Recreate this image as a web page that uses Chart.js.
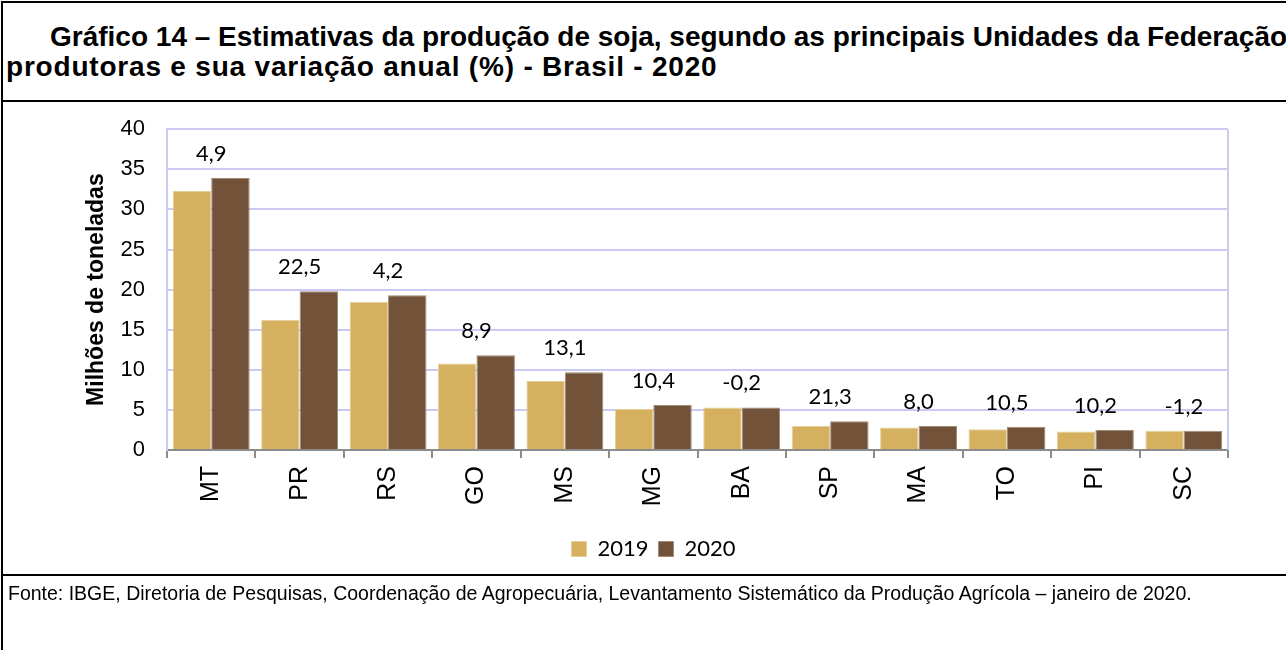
<!DOCTYPE html>
<html>
<head>
<meta charset="utf-8">
<script src="https://cdn.jsdelivr.net/npm/chart.js@4.4.0/dist/chart.umd.min.js"></script>
<style>
  body { margin: 0; background: #fff; width: 1286px; height: 650px; overflow: hidden; position: relative; font-family: "Liberation Sans", Arial, sans-serif; }
  #frame { position: absolute; left: 1px; top: 1px; width: 1300px; height: 660px; border-left: 2px solid #000; border-top: 2px solid #000; }
  #title { position: absolute; left: 6px; top: 22px; width: 1290px; font-weight: bold; font-size: 28px; line-height: 30px; color: #000; white-space: nowrap; }
  #title .l1 { padding-left: 44px; }
  #title .l2 { letter-spacing: 0.8px; }
  #sep1 { position: absolute; left: 1px; top: 100px; width: 1300px; height: 2px; background: #000; }
  #wrap { position: absolute; left: 4px; top: 94px; width: 1282px; height: 481px; }
  #sep2 { position: absolute; left: 1px; top: 574px; width: 1300px; height: 2px; background: #000; }
  #foot { position: absolute; left: 8px; top: 582px; font-size: 19.5px; line-height: 22px; color: #000; white-space: nowrap; }
</style>
</head>
<body>
<div id="frame"></div>
<div id="title"><div class="l1">Gráfico 14 – Estimativas da produção de soja, segundo as principais Unidades da Federação</div><div class="l2">produtoras e sua variação anual (%) - Brasil - 2020</div></div>
<div id="wrap"><canvas id="myChart" width="1282" height="481"></canvas></div>
<div id="sep1"></div>
<div id="sep2"></div>
<div id="foot">Fonte: IBGE, Diretoria de Pesquisas, Coordenação de Agropecuária, Levantamento Sistemático da Produção Agrícola – janeiro de 2020.</div>
<script>
const CHART = document.getElementById('myChart');

// Produção de soja (milhões de toneladas) e variação anual (%)
const states = ['MT', 'PR', 'RS', 'GO', 'MS', 'MG', 'BA', 'SP', 'MA', 'TO', 'PI', 'SC'];
const prod2019 = [32.3, 16.2, 18.5, 10.8, 8.6, 5.1, 5.3, 3.0, 2.8, 2.6, 2.3, 2.4];
const prod2020 = [33.9, 19.8, 19.3, 11.8, 9.7, 5.6, 5.3, 3.6, 3.0, 2.9, 2.5, 2.4];
const variation = [4.9, 22.5, 4.2, 8.9, 13.1, 10.4, -0.2, 21.3, 8.0, 10.5, 10.2, -1.2];
const yTicks = [0, 5, 10, 15, 20, 25, 30, 35, 40];

const GRID = '#cacaf4';

const variationLabels = {
    id: 'variationLabels',
    afterDatasetsDraw(chart) {
        const { ctx, scales: { x, y }, chartArea } = chart;
        ctx.save();
        // borda direita da área do gráfico
        ctx.strokeStyle = GRID;
        ctx.lineWidth = 2;
        ctx.beginPath();
        ctx.moveTo(chartArea.right, chartArea.top);
        ctx.lineTo(chartArea.right, chartArea.bottom);
        ctx.stroke();

        ctx.font = '22px Lato, "Open Sans", sans-serif';
        ctx.fillStyle = '#000';
        ctx.textAlign = 'center';
        ctx.textBaseline = 'alphabetic';
        variation.forEach((v, i) => {
            const top = y.getPixelForValue(Math.max(prod2019[i], prod2020[i]));
            const txt = v.toFixed(1).replace('.', ',');
            ctx.fillText(txt, x.getPixelForValue(i), top - 17);
        });
        ctx.restore();
    }
};

let barChart = new Chart(CHART, {
    type: 'bar',
    data: {
        labels: states,
        datasets: [
            {
                label: '2019',
                backgroundColor: '#d4b05f',
                borderColor: '#e6cf9c',
                borderWidth: 1,
                data: prod2019
            },
            {
                label: '2020',
                backgroundColor: '#72533a',
                borderColor: '#a08a78',
                borderWidth: 1,
                data: prod2020
            }
        ]
    },
    plugins: [variationLabels],
    options: {
        responsive: false,
        animation: false,
        devicePixelRatio: 1,
        layout: { padding: { left: 75, right: 58, top: 19, bottom: 5 } },
        datasets: { bar: { categoryPercentage: 0.87, barPercentage: 1.0 } },
        plugins: {
            title: { display: false },
            tooltip: { enabled: false },
            legend: {
                position: 'bottom',
                labels: {
                    boxWidth: 15,
                    boxHeight: 15,
                    padding: 10,
                    color: '#000',
                    font: { family: 'Lato, "Open Sans", sans-serif', size: 22 }
                }
            }
        },
        scales: {
            x: {
                afterFit: s => { s.height = 78; },
                grid: { drawOnChartArea: false, drawTicks: true, tickLength: 8, color: '#8c8c8c', lineWidth: 2 },
                border: { color: '#8c8c8c', width: 2 },
                ticks: {
                    color: '#000',
                    minRotation: 90,
                    maxRotation: 90,
                    padding: 8,
                    font: { family: '"Liberation Sans", Arial, sans-serif', size: 25 }
                }
            },
            y: {
                min: 0,
                max: 40,
                afterFit: s => { s.width = 88; },
                afterBuildTicks: s => { s.ticks = yTicks.map(v => ({ value: v })); },
                grid: { color: GRID, lineWidth: 2, drawTicks: false },
                border: { color: GRID, width: 2 },
                ticks: {
                    color: '#000',
                    padding: 22,
                    font: { family: '"Liberation Sans", Arial, sans-serif', size: 22 }
                },
                title: {
                    display: true,
                    text: 'Milhões de toneladas',
                    color: '#000',
                    font: { family: '"Liberation Sans", Arial, sans-serif', size: 23, weight: 'bold' }
                }
            }
        }
    }
});
</script>
</body>
</html>
